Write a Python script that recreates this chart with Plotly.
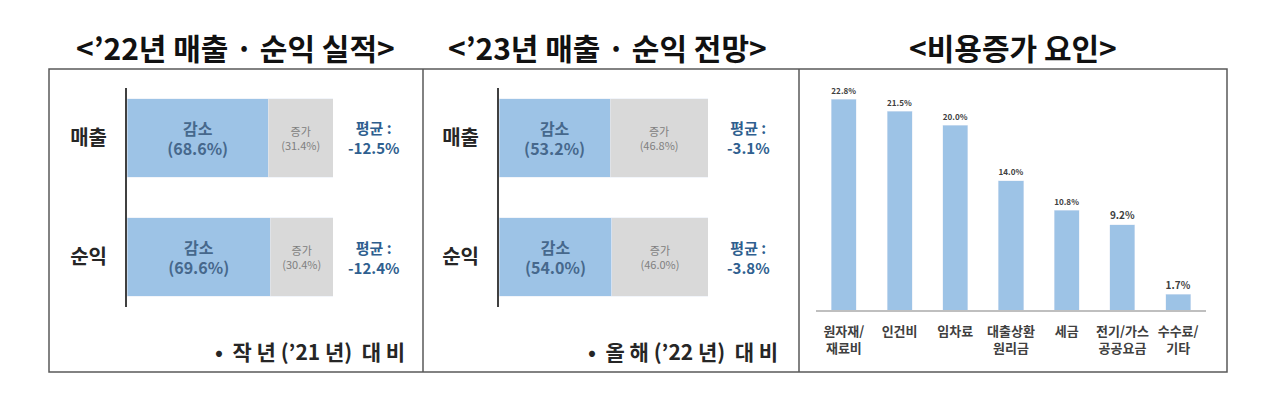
import plotly.graph_objects as go

# data
categories = ["매출", "순익"]
dec_22 = [68.6, 69.6]
inc_22 = [31.4, 30.4]
avg_22 = [-12.5, -12.4]
dec_23 = [53.2, 54.0]
inc_23 = [46.8, 46.0]
avg_23 = [-3.1, -3.8]
factors = ["원자재/<br>재료비", "인건비", "임차료", "대출상환<br>원리금", "세금",
           "전기/가스<br>공공요금", "수수료/<br>기타"]
factor_vals = [22.8, 21.5, 20.0, 14.0, 10.8, 9.2, 1.7]

titles = ["&lt;’22년 매출 · 순익 실적&gt;", "&lt;’23년 매출 · 순익 전망&gt;",
          "&lt;비용증가 요인&gt;"]
notes = ["•  작 년 (’21 년)  대 비", "•  올 해 (’22 년)  대 비"]

# page body has an 8px margin, so the figure is a bit smaller than the window
OFF = 8
W, H = 1280 - OFF, 420 - OFF
FONT = "Noto Sans CJK KR"
BLUE = "#9DC3E6"
GRAY = "#D9D9D9"


def px(x):
    return (x - OFF) / W


def py(y):
    return 1 - (y - OFF) / H


fig = go.Figure()

# stacked bars for the two left panels
for i, (dec, inc) in enumerate([(dec_22, inc_22), (dec_23, inc_23)]):
    xa = "x" if i == 0 else "x2"
    ya = "y" if i == 0 else "y2"
    fig.add_trace(go.Bar(
        y=categories, x=dec, orientation="h", width=0.66,
        marker_color=BLUE, xaxis=xa, yaxis=ya,
        text=[f"감소<br>({v:.1f}%)" for v in dec],
        textposition="inside", insidetextanchor="middle", textangle=0,
        constraintext="none",
        textfont=dict(family=FONT, size=16, color="#46688C", weight="bold"),
        hoverinfo="skip", showlegend=False))
    fig.add_trace(go.Bar(
        y=categories, x=inc, orientation="h", width=0.66,
        marker_color=GRAY, xaxis=xa, yaxis=ya,
        text=[f"증가<br>({v:.1f}%)" for v in inc],
        textposition="inside", insidetextanchor="middle", textangle=0,
        constraintext="none",
        textfont=dict(family=FONT, size=11, color="#808080"),
        hoverinfo="skip", showlegend=False))

# cost increase factors
fig.add_trace(go.Bar(
    x=factors, y=factor_vals, width=0.45, marker_color=BLUE,
    xaxis="x3", yaxis="y3",
    text=[f"{v:.1f}%" for v in factor_vals], textposition="outside",
    cliponaxis=False,
    textfont=dict(family=FONT, size=11, color="#404040", weight="bold"),
    hoverinfo="skip", showlegend=False))

ydom = [py(307), py(88)]
ycat = dict(domain=ydom, range=[1.42, -0.42], showline=True, linecolor="#404040",
            linewidth=2, ticks="", ticklabelstandoff=14, showgrid=False,
            tickfont=dict(family=FONT, size=20, color="#262626", weight="bold"))

fig.update_layout(
    width=W, height=H, margin=dict(l=0, r=0, t=0, b=0),
    paper_bgcolor="white", plot_bgcolor="white",
    barmode="stack", font=dict(family=FONT),
    xaxis=dict(domain=[px(127), px(333)], range=[0, 100], visible=False),
    yaxis=dict(anchor="x", **ycat),
    xaxis2=dict(domain=[px(499), px(708)], range=[0, 100], visible=False),
    yaxis2=dict(anchor="x2", **ycat),
    xaxis3=dict(domain=[px(816), px(1206)], anchor="y3", showline=True,
                linecolor="#BFBFBF", linewidth=1.5, ticks="", showgrid=False,
                ticklabelstandoff=9,
                tickfont=dict(family=FONT, size=13, color="#404040", weight="bold")),
    yaxis3=dict(domain=[py(310), py(79)], anchor="x3", range=[0, 25], visible=False),
)

# averages
for xr, ya, avgs in [(373, "y", avg_22), (748, "y2", avg_23)]:
    for cat, v in zip(categories, avgs):
        fig.add_annotation(x=px(xr), xref="paper", y=cat, yref=ya, showarrow=False,
                           xanchor="center", yanchor="middle",
                           text=f"평균 :<br>{v:.1f}%", align="center",
                           font=dict(family=FONT, size=15, color="#2F5F8F", weight="bold"))

# titles
for xc, t in zip([236, 607, 1013], titles):
    fig.add_annotation(x=px(xc), y=py(47), xref="paper", yref="paper", showarrow=False,
                       xanchor="center", yanchor="middle",
                       text=t, font=dict(family=FONT, size=30, color="#111111", weight="bold"))

# footnotes
for xr, t in zip([407, 780], notes):
    fig.add_annotation(x=px(xr), y=py(351), xref="paper", yref="paper", showarrow=False,
                       xanchor="right", yanchor="middle", text=t,
                       font=dict(family=FONT, size=21, color="#262626", weight="bold"))

# panel frame
frame = dict(type="line", xref="paper", yref="paper", line=dict(color="#595959", width=1.5))
fig.add_shape(type="rect", x0=px(49), x1=px(1227), y0=py(372), y1=py(69),
              xref="paper", yref="paper", line=dict(color="#595959", width=1.5))
for xd in [423, 799]:
    fig.add_shape(x0=px(xd), x1=px(xd), y0=py(372), y1=py(69), **frame)

fig.write_html("out.html")
